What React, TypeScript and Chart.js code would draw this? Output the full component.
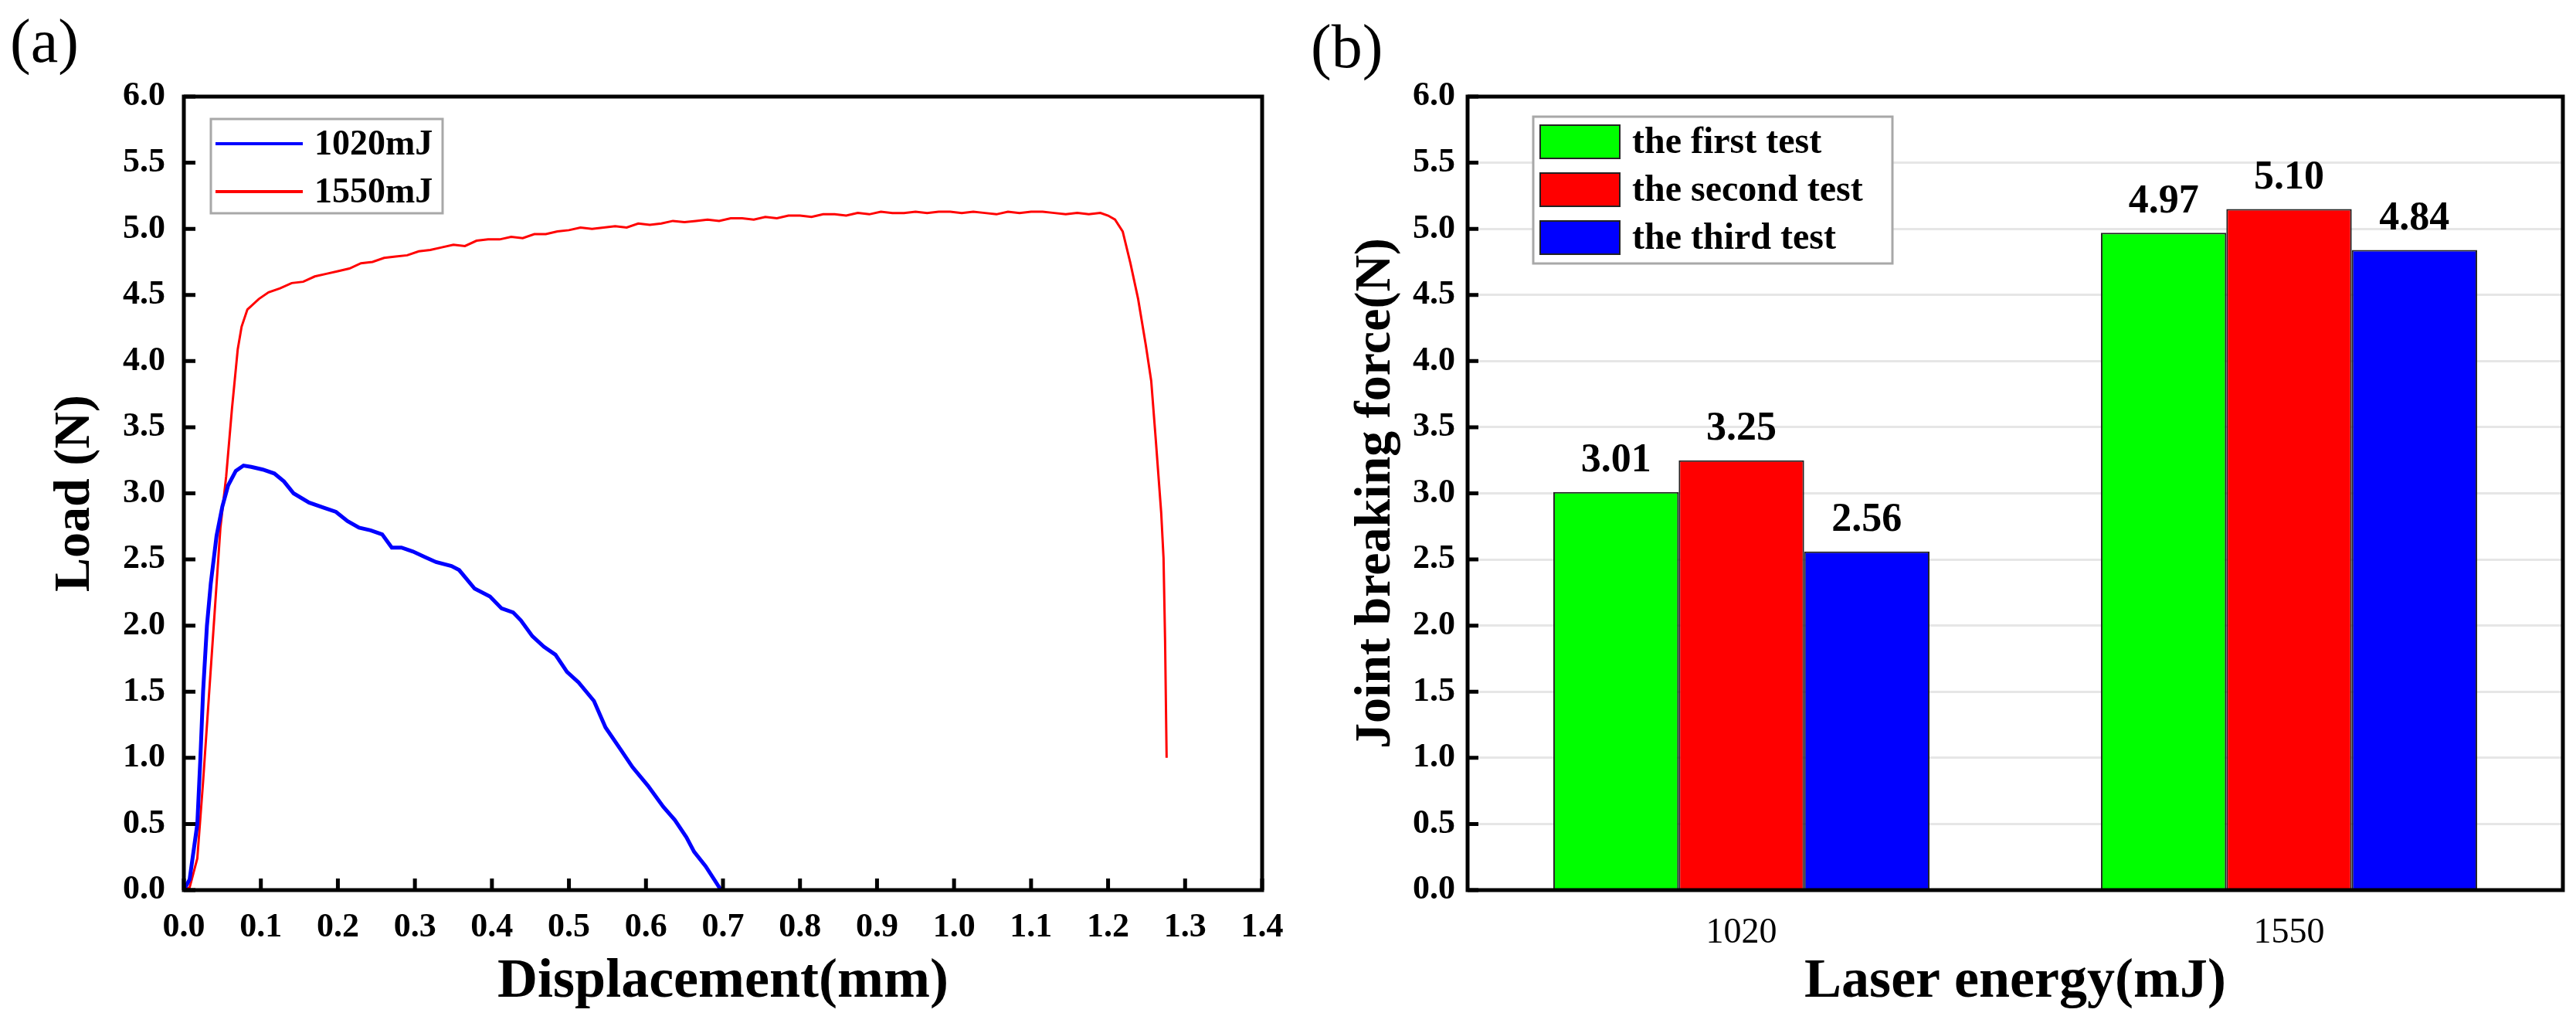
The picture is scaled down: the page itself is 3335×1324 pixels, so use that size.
import { useEffect, useRef } from "react"
import { Chart, registerables } from "chart.js"

Chart.register(...registerables)

const SERIF = "'Liberation Serif', 'Times New Roman', serif"

// (a) load - displacement curves
const disp1020 = [
  0, 0.0075, 0.0175, 0.0215, 0.025, 0.03, 0.035, 0.0425, 0.05, 0.0575, 0.0675, 0.0775, 0.0875,
  0.1025, 0.1175, 0.13, 0.1425, 0.1625, 0.1825, 0.1975, 0.2125, 0.2275, 0.2425, 0.2575, 0.27,
  0.2825, 0.2975, 0.3125, 0.3275, 0.3475, 0.3575, 0.3775, 0.3975, 0.4125, 0.4275, 0.4375, 0.4525,
  0.4675, 0.4825, 0.4975, 0.5125, 0.5325, 0.5475, 0.5675, 0.5825, 0.6025, 0.6225, 0.6375, 0.6525,
  0.6625, 0.6775, 0.6975,
]
const load1020 = [
  0, 0.08, 0.5, 1.0, 1.5, 2.0, 2.32, 2.68, 2.9, 3.06, 3.17, 3.21, 3.2,
  3.18, 3.15, 3.09, 3.0, 2.93, 2.89, 2.86, 2.79, 2.74, 2.72, 2.69, 2.59,
  2.59, 2.56, 2.52, 2.48, 2.45, 2.42, 2.28, 2.22, 2.13, 2.1, 2.04, 1.92,
  1.84, 1.78, 1.65, 1.57, 1.43, 1.23, 1.06, 0.93, 0.79, 0.63, 0.53, 0.4,
  0.29, 0.18, 0,
]
const disp1550 = [
  0, 0.0075, 0.0175, 0.025, 0.0325, 0.04, 0.0475, 0.055, 0.0625, 0.07, 0.075, 0.0825, 0.0975,
  0.11, 0.125, 0.14, 0.155, 0.17, 0.185, 0.2, 0.215, 0.23, 0.245, 0.26, 0.275, 0.29, 0.305,
  0.32, 0.335, 0.35, 0.365, 0.38, 0.395, 0.41, 0.425, 0.44, 0.455, 0.47, 0.485, 0.5, 0.515,
  0.53, 0.545, 0.56, 0.575, 0.59, 0.605, 0.62, 0.635, 0.65, 0.665, 0.68, 0.695, 0.71, 0.725,
  0.74, 0.755, 0.77, 0.785, 0.8, 0.815, 0.83, 0.845, 0.86, 0.875, 0.89, 0.905, 0.92, 0.935,
  0.95, 0.965, 0.98, 0.995, 1.01, 1.025, 1.04, 1.055, 1.07, 1.085, 1.1, 1.115, 1.13, 1.145,
  1.16, 1.175, 1.19, 1.2, 1.209, 1.219, 1.229, 1.239, 1.249, 1.256, 1.262, 1.269, 1.272,
  1.274, 1.276,
]
const load1550 = [
  0, 0.02, 0.24, 0.82, 1.46, 2.1, 2.74, 3.13, 3.64, 4.09, 4.26, 4.39, 4.47,
  4.52, 4.55, 4.59, 4.6, 4.64, 4.66, 4.68, 4.7, 4.74, 4.75, 4.78, 4.79, 4.8, 4.83,
  4.84, 4.86, 4.88, 4.87, 4.91, 4.92, 4.92, 4.94, 4.93, 4.96, 4.96, 4.98, 4.99, 5.01,
  5.0, 5.01, 5.02, 5.01, 5.04, 5.03, 5.04, 5.06, 5.05, 5.06, 5.07, 5.06, 5.08, 5.08,
  5.07, 5.09, 5.08, 5.1, 5.1, 5.09, 5.11, 5.11, 5.1, 5.12, 5.11, 5.13, 5.12, 5.12,
  5.13, 5.12, 5.13, 5.13, 5.12, 5.13, 5.12, 5.11, 5.13, 5.12, 5.13, 5.13, 5.12, 5.11,
  5.12, 5.11, 5.12, 5.1, 5.07, 4.98, 4.74, 4.47, 4.12, 3.85, 3.4, 2.85, 2.51,
  1.89, 1.0,
]
const curveNames = ["1020mJ", "1550mJ"]

// (b) joint breaking force per laser energy
const energies = ["1020", "1550"]
const testNames = ["the first test", "the second test", "the third test"]
const firstTest = [3.01, 4.97]
const secondTest = [3.25, 5.15]
const thirdTest = [2.56, 4.84]
const firstText = ["3.01", "4.97"]
const secondText = ["3.25", "5.10"]
const thirdText = ["2.56", "4.84"]

const toPoints = (xs: number[], ys: number[]) => xs.map((x, i) => ({ x, y: ys[i] }))

// black box round the plot area plus inward ticks
function framePlugin(tickLen: number, xTicks: boolean) {
  return {
    id: "frame",
    afterDatasetsDraw(chart: any) {
      const { ctx, chartArea } = chart
      const { left, top, right, bottom } = chartArea
      ctx.save()
      ctx.strokeStyle = "#000"
      ctx.lineWidth = 5
      ctx.beginPath()
      chart.scales.y.ticks.forEach((t: any) => {
        const py = chart.scales.y.getPixelForValue(t.value)
        ctx.moveTo(left, py)
        ctx.lineTo(left + tickLen, py)
      })
      if (xTicks) {
        chart.scales.x.ticks.forEach((t: any) => {
          const px = chart.scales.x.getPixelForValue(t.value)
          ctx.moveTo(px, bottom)
          ctx.lineTo(px, bottom - tickLen)
        })
      }
      ctx.stroke()
      ctx.strokeRect(left, top, right - left, bottom - top)
      ctx.restore()
    },
  }
}

const lineLegend = {
  id: "lineLegend",
  afterDatasetsDraw(chart: any) {
    const { ctx, chartArea } = chart
    const x = chartArea.left + 35
    const y = chartArea.top + 29
    ctx.save()
    ctx.fillStyle = "#fff"
    ctx.fillRect(x, y, 300, 122)
    ctx.strokeStyle = "#a8a8a8"
    ctx.lineWidth = 3
    ctx.strokeRect(x, y, 300, 122)
    ctx.font = `bold 46px ${SERIF}`
    ctx.textBaseline = "middle"
    chart.data.datasets.forEach((ds: any, i: number) => {
      const cy = y + 32 + i * 62
      ctx.strokeStyle = ds.borderColor
      ctx.lineWidth = 4
      ctx.beginPath()
      ctx.moveTo(x + 6, cy)
      ctx.lineTo(x + 119, cy)
      ctx.stroke()
      ctx.fillStyle = "#000"
      ctx.fillText(ds.label, x + 134, cy + 2)
    })
    ctx.restore()
  },
}

const barLegend = {
  id: "barLegend",
  afterDatasetsDraw(chart: any) {
    const { ctx, chartArea } = chart
    const x = chartArea.left + 85
    const y = chartArea.top + 26
    ctx.save()
    ctx.fillStyle = "#fff"
    ctx.fillRect(x, y, 465, 190)
    ctx.strokeStyle = "#a8a8a8"
    ctx.lineWidth = 3
    ctx.strokeRect(x, y, 465, 190)
    ctx.font = `bold 48px ${SERIF}`
    ctx.textBaseline = "middle"
    chart.data.datasets.forEach((ds: any, i: number) => {
      const sy = y + 11 + i * 62
      ctx.fillStyle = ds.backgroundColor
      ctx.fillRect(x + 9, sy, 103, 43)
      ctx.strokeStyle = "#222"
      ctx.lineWidth = 2
      ctx.strokeRect(x + 9, sy, 103, 43)
      ctx.fillStyle = "#000"
      ctx.fillText(ds.label, x + 128, sy + 24)
    })
    ctx.restore()
  },
}

const valueLabels = {
  id: "valueLabels",
  afterDatasetsDraw(chart: any) {
    const { ctx } = chart
    ctx.save()
    ctx.font = `bold 52px ${SERIF}`
    ctx.fillStyle = "#000"
    ctx.textAlign = "center"
    ctx.textBaseline = "bottom"
    chart.data.datasets.forEach((ds: any, i: number) => {
      chart.getDatasetMeta(i).data.forEach((bar: any, j: number) => {
        ctx.fillText(ds.valueText[j], bar.x, bar.y - 14)
      })
    })
    ctx.restore()
  },
}

function LoadCurveChart() {
  const canvasRef = useRef<HTMLCanvasElement>(null)

  useEffect(() => {
    if (!canvasRef.current) return
    const tickFont = { family: SERIF, size: 44, weight: "bold" as const }
    const chart = new Chart(canvasRef.current, {
      type: "line",
      data: {
        datasets: [
          {
            label: curveNames[0],
            data: toPoints(disp1020, load1020),
            borderColor: "#0000ff",
            borderWidth: 5,
            pointRadius: 0,
            tension: 0,
          },
          {
            label: curveNames[1],
            data: toPoints(disp1550, load1550),
            borderColor: "#ff0000",
            borderWidth: 3,
            pointRadius: 0,
            tension: 0,
          },
        ],
      },
      options: {
        animation: false,
        responsive: false,
        devicePixelRatio: 1,
        layout: { padding: { top: 125, right: 66, left: 0, bottom: 0 } },
        plugins: { legend: { display: false }, tooltip: { enabled: false } },
        scales: {
          x: {
            type: "linear",
            min: 0,
            max: 1.4,
            grid: { display: false },
            border: { display: false },
            ticks: {
              stepSize: 0.1,
              color: "#000",
              font: tickFont,
              padding: 14,
              maxRotation: 0,
              callback: (v: any) => Number(v).toFixed(1),
            },
            title: {
              display: true,
              text: "Displacement(mm)",
              color: "#000",
              font: { family: SERIF, size: 72, weight: "bold" },
              padding: { top: 0, bottom: 9 },
            },
            afterFit: (s: any) => {
              s.height = 172
            },
          },
          y: {
            min: 0,
            max: 6,
            grid: { display: false },
            border: { display: false },
            ticks: {
              stepSize: 0.5,
              color: "#000",
              font: tickFont,
              padding: 16,
              callback: (v: any) => Number(v).toFixed(1),
            },
            title: {
              display: true,
              text: "Load (N)",
              color: "#000",
              font: { family: SERIF, size: 66, weight: "bold" },
              padding: { top: 58, bottom: 0 },
            },
            afterFit: (s: any) => {
              s.width = 238
            },
          },
        },
      },
      plugins: [framePlugin(15, true), lineLegend],
    })
    return () => chart.destroy()
  }, [])

  return (
    <canvas
      ref={canvasRef}
      width={1700}
      height={1324}
      style={{ position: "absolute", left: 0, top: 0, width: 1700, height: 1324 }}
    />
  )
}

function BreakingForceChart() {
  const canvasRef = useRef<HTMLCanvasElement>(null)

  useEffect(() => {
    if (!canvasRef.current) return
    const series = [firstTest, secondTest, thirdTest]
    const texts = [firstText, secondText, thirdText]
    const colors = ["#00ff00", "#ff0000", "#0000ff"]
    const chart = new Chart(canvasRef.current, {
      type: "bar",
      data: {
        labels: energies,
        datasets: series.map((values, i) => ({
          label: testNames[i],
          data: values,
          valueText: texts[i],
          backgroundColor: colors[i],
          borderColor: "#222",
          borderWidth: 2,
          categoryPercentage: 0.687,
          barPercentage: 1,
        })) as any,
      },
      options: {
        animation: false,
        responsive: false,
        devicePixelRatio: 1,
        layout: { padding: { top: 125, right: 17, left: 0, bottom: 0 } },
        plugins: { legend: { display: false }, tooltip: { enabled: false } },
        scales: {
          x: {
            grid: { display: false },
            border: { display: false },
            ticks: {
              color: "#000",
              font: { family: SERIF, size: 46 },
              padding: 20,
            },
            title: {
              display: true,
              text: "Laser energy(mJ)",
              color: "#000",
              font: { family: SERIF, size: 72, weight: "bold" },
              padding: { top: 0, bottom: 9 },
            },
            afterFit: (s: any) => {
              s.height = 172
            },
          },
          y: {
            min: 0,
            max: 6,
            grid: { color: "#e6e6e6", lineWidth: 3, drawTicks: false },
            border: { display: false },
            ticks: {
              stepSize: 0.5,
              color: "#000",
              font: { family: SERIF, size: 44, weight: "bold" },
              padding: 16,
              callback: (v: any) => Number(v).toFixed(1),
            },
            title: {
              display: true,
              text: "Joint breaking force(N)",
              color: "#000",
              font: { family: SERIF, size: 66, weight: "bold" },
              padding: { top: 42, bottom: 0 },
            },
            afterFit: (s: any) => {
              s.width = 200
            },
          },
        },
      },
      plugins: [valueLabels, framePlugin(14, false), barLegend],
    })
    return () => chart.destroy()
  }, [])

  return (
    <canvas
      ref={canvasRef}
      width={1635}
      height={1324}
      style={{ position: "absolute", left: 1700, top: 0, width: 1635, height: 1324 }}
    />
  )
}

const panelLabel: React.CSSProperties = {
  position: "absolute",
  fontFamily: SERIF,
  fontSize: 80,
  lineHeight: "80px",
  color: "#000",
}

export default function App() {
  return (
    <div style={{ position: "absolute", left: 0, top: 0, width: 3335, height: 1324, background: "#fff" }}>
      <LoadCurveChart />
      <BreakingForceChart />
      <div style={{ ...panelLabel, left: 13, top: 13 }}>(a)</div>
      <div style={{ ...panelLabel, left: 1697, top: 20 }}>(b)</div>
    </div>
  )
}
